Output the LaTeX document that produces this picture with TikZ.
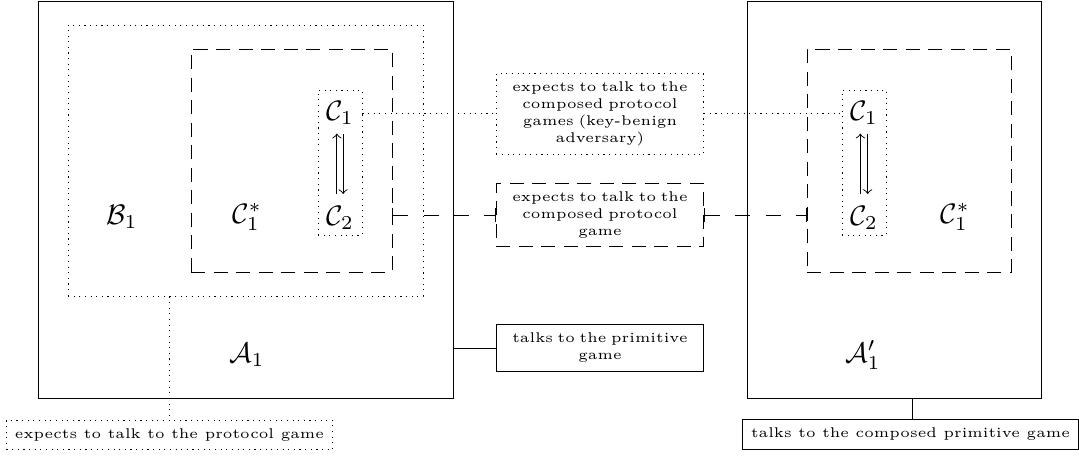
\documentclass[tikz,border=0pt]{standalone}
\usetikzlibrary{fit}
\tikzset{
  dotln/.style={dash pattern=on 0.4pt off 1.6pt},
  dashln/.style={dash pattern=on 5.4pt off 5.4pt},
  solidbox/.style={draw, inner sep=0pt},
  dotbox/.style={draw, dotln, inner sep=0pt},
  dashbox/.style={draw, dash pattern=on 5pt off 3pt, inner sep=0pt},
  term/.style={inner sep=3pt},
  note/.style={font=\tiny, align=center, inner sep=3pt, text width=67.6pt},
  wnote/.style={font=\tiny, inner sep=3pt},
}
\begin{document}
\begin{tikzpicture}[x=0.355pt, y=-0.355pt, line width=0.33pt]
\useasboundingbox (0,0) rectangle (1079,455);

% left adversary and its nested parts
\node[solidbox, fit={(38,1) (453,398)}] (A1box) {};
\node[dotbox, fit={(68,25) (423,296)}] (B1box) {};
\node[dashbox, fit={(191,49) (392,272)}] (csL) {};
\node[dotbox, fit={(318,90) (362,235)}] (ccL) {};
\node[term] (c1L) at (340,113) {$\mathcal{C}_1$};
\node[term] (c2L) at (340,218) {$\mathcal{C}_2$};
\node[term] (b1) at (122,217) {$\mathcal{B}_1$};
\node[term] (cstarL) at (247,217) {$\mathcal{C}_1^*$};
\node[term] (a1) at (247,355) {$\mathcal{A}_1$};

% right adversary
\node[solidbox, fit={(747,1) (1041,398)}] (A1pbox) {};
\node[dashbox, fit={(807,49) (1011,272)}] (csR) {};
\node[dotbox, fit={(842,90) (886,235)}] (ccR) {};
\node[term] (c1R) at (864,113) {$\mathcal{C}_1$};
\node[term] (c2R) at (864,218) {$\mathcal{C}_2$};
\node[term] (cstarR) at (955,217) {$\mathcal{C}_1^*$};
\node[term] (a1p) at (863,355) {$\mathcal{A}_1'$};

% messages between the two sub-games
\draw[->, shorten <=1.2pt] ([xshift=-1.1pt]c2L.north) -- ([xshift=-1.1pt]c1L.south);
\draw[->, shorten >=1.2pt] ([xshift=1.1pt]c1L.south) -- ([xshift=1.1pt]c2L.north);
\draw[->, shorten <=1.2pt] ([xshift=-1.3pt]c2R.north) -- ([xshift=-1.3pt]c1R.south);
\draw[->, shorten >=1.2pt] ([xshift=1.3pt]c1R.south) -- ([xshift=1.3pt]c2R.north);

% annotations
\node[note, draw, dotln] (topLbl) at (600,114)
  {expects to talk to the\\composed protocol\\games (key-benign\\adversary)};
\node[note, draw, dash pattern=on 5pt off 3pt] (midLbl) at (600,215)
  {expects to talk to the\\composed protocol\\game};
\node[note, draw] (primLbl) at (600,348)
  {talks to the primitive\\game};
\node[wnote, draw, dotln] (protoLbl) at (169.5,435)
  {expects to talk to the protocol game};
\node[wnote, draw] (compLbl) at (910.5,434.5)
  {talks to the composed primitive game};

% connectors
\draw[dotln] (c1L -| ccL.east) -- (c1L -| topLbl.west);
\draw[dotln] (c1R -| topLbl.east) -- (c1R -| ccR.west);
\draw[dashln, |-|] (midLbl.west -| csL.east) -- (midLbl.west);
\draw[dashln, |-|] (midLbl.east) -- (midLbl.east -| csR.west);
\draw (primLbl.west -| A1box.east) -- (primLbl.west);
\draw[dotln] (protoLbl.north |- B1box.south) -- (protoLbl.north);
\draw (compLbl.north -| 912,0) -- (A1pbox.south -| 912,0);
\end{tikzpicture}
\end{document}
